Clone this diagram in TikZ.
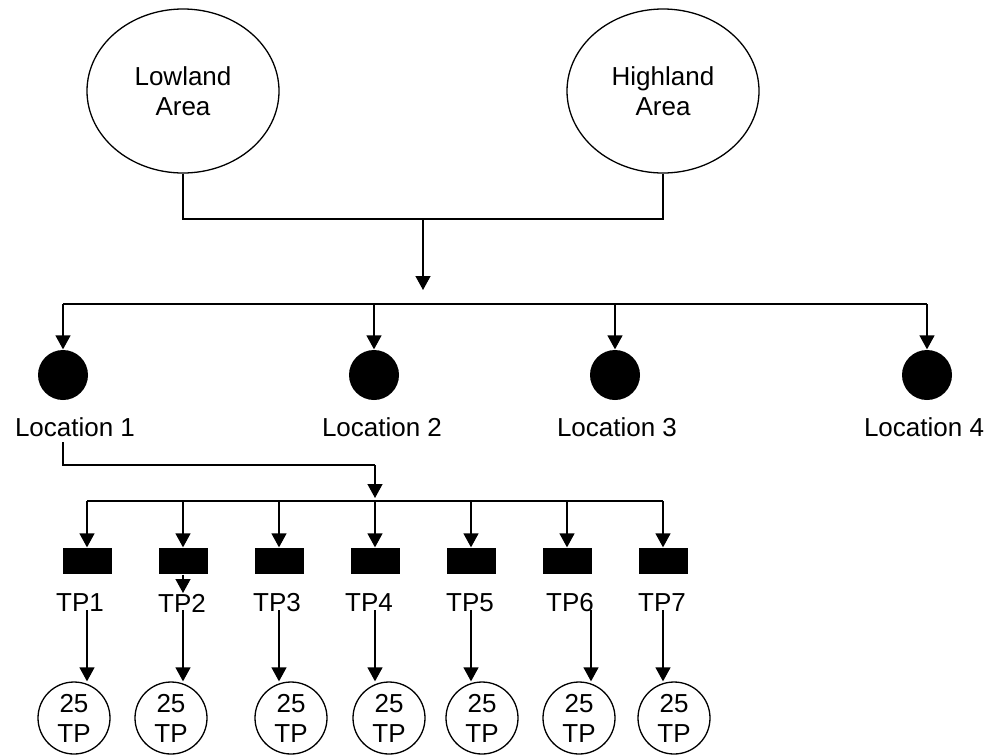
\documentclass[tikz,border=0pt]{standalone}
\usepackage{fontspec}
\setmainfont{Liberation Sans}
\usetikzlibrary{positioning}
\usetikzlibrary{arrows.meta}
\usetikzlibrary{shapes.geometric}

\begin{document}
\begin{tikzpicture}[x=1pt, y=-1pt, node distance=96pt, on grid, line width=1.3pt, inner sep=0pt,
  font=\fontsize{26}{30}\selectfont,
  area/.style={ellipse, draw, minimum width=192pt, minimum height=164pt, align=center},
  site/.style={circle, fill, minimum size=50pt},
  plot/.style={rectangle, fill, minimum width=49pt, minimum height=26pt},
  sample/.style={circle, draw, minimum size=72pt, align=center},
  >={Triangle[width=15pt,length=14pt]}]

\useasboundingbox (0,0) rectangle (992,755);

% areas
\node [area] (low) at (183,91) {Lowland\\Area};
\node [area] (high) at (663,91) {Highland\\Area};

% locations
\node [site] (loc_1) at (63,375) {};
\node [site] (loc_2) at (374,375) {};
\node [site] (loc_3) at (615,375) {};
\node [site] (loc_4) at (927,375) {};
\node (name_1) at (75,427) {Location 1};
\node (name_2) at (382,427) {Location 2};
\node (name_3) at (617,427) {Location 3};
\node (name_4) at (924,427) {Location 4};

% treatment plots
\node [plot] (tp_1) at (87,561) {};
\node [plot, right=of tp_1] (tp_2) {};
\node [plot, right=of tp_2] (tp_3) {};
\node [plot, right=of tp_3] (tp_4) {};
\node [plot, right=of tp_4] (tp_5) {};
\node [plot, right=of tp_5] (tp_6) {};
\node [plot, right=of tp_6] (tp_7) {};
\node (lab_1) at (80,603) {TP1};
\node (lab_2) at (182,603) {TP2};
\node (lab_3) at (277,603) {TP3};
\node (lab_4) at (369,603) {TP4};
\node (lab_5) at (470,603) {TP5};
\node (lab_6) at (570,603) {TP6};
\node (lab_7) at (662,603) {TP7};

% samples
\node [sample] (n_1) at (74,718) {25\\TP};
\node [sample] (n_2) at (171,718) {25\\TP};
\node [sample] (n_3) at (291,718) {25\\TP};
\node [sample] (n_4) at (389,718) {25\\TP};
\node [sample] (n_5) at (482,718) {25\\TP};
\node [sample] (n_6) at (579,718) {25\\TP};
\node [sample] (n_7) at (674,718) {25\\TP};

\coordinate (join) at (423,219);
\coordinate (join_end) at (423,290);
\coordinate (loc_bus) at (423,304);
\coordinate (loc_out) at (63,442);
\coordinate (tp_join) at (375,465);
\coordinate (tp_in) at (375,498);
\coordinate (tp_bus) at (375,501);
\coordinate (tp2_tip) at (183,593);
\coordinate (s_1) at (87,610);
\coordinate (s_2) at (183,610);
\coordinate (s_3) at (279,610);
\coordinate (s_4) at (375,610);
\coordinate (s_5) at (471,610);
\coordinate (s_6) at (591,610);
\coordinate (s_7) at (663,610);

% areas to locations
\draw (low.south) |- (join) -| (high.south);
\draw [->] (join) -- (join_end);
\draw (loc_bus -| loc_1) -- (loc_bus -| loc_4);
\draw [->] (loc_bus -| loc_1) -- (loc_1);
\draw [->] (loc_bus -| loc_2) -- (loc_2);
\draw [->] (loc_bus -| loc_3) -- (loc_3);
\draw [->] (loc_bus -| loc_4) -- (loc_4);

% location 1 to plots
\draw (loc_out) |- (tp_join);
\draw [->] (tp_join) -- (tp_in);
\draw (tp_bus -| tp_1) -- (tp_bus -| tp_7);
\draw [->] (tp_bus -| tp_1) -- (tp_1);
\draw [->] (tp_bus -| tp_2) -- (tp_2);
\draw [->] (tp_bus -| tp_3) -- (tp_3);
\draw [->] (tp_bus -| tp_4) -- (tp_4);
\draw [->] (tp_bus -| tp_5) -- (tp_5);
\draw [->] (tp_bus -| tp_6) -- (tp_6);
\draw [->] (tp_bus -| tp_7) -- (tp_7);
\draw [->] (tp_2.south) -- (tp2_tip);

% plots to samples
\draw [->] (s_1) -- (s_1 |- n_1.north);
\draw [->] (s_2) -- (s_2 |- n_2.north);
\draw [->] (s_3) -- (s_3 |- n_3.north);
\draw [->] (s_4) -- (s_4 |- n_4.north);
\draw [->] (s_5) -- (s_5 |- n_5.north);
\draw [->] (s_6) -- (s_6 |- n_6.north);
\draw [->] (s_7) -- (s_7 |- n_7.north);

\end{tikzpicture}
\end{document}
